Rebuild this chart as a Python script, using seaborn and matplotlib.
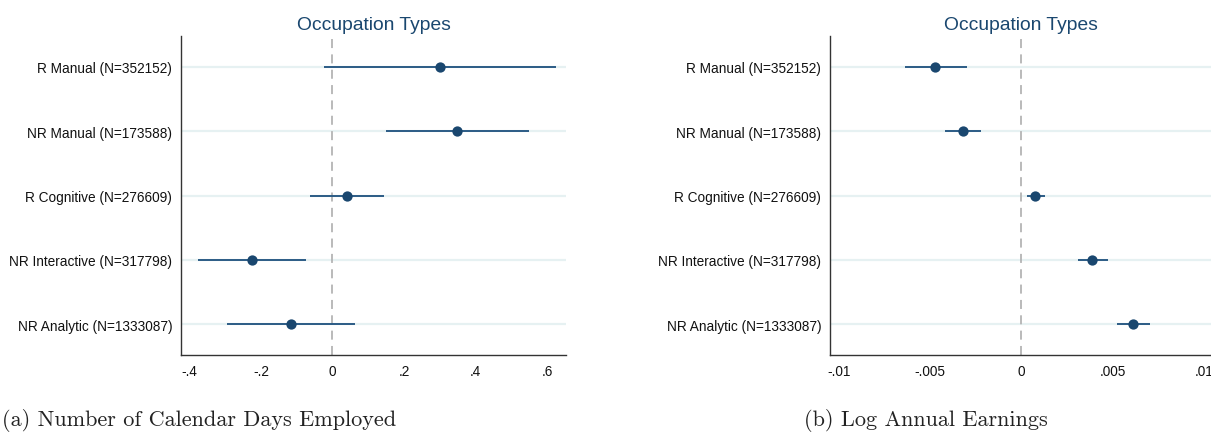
import matplotlib
matplotlib.use("Agg")
import matplotlib.pyplot as plt
import seaborn as sns
import pandas as pd

categories = ["R Manual (N=352152)", "NR Manual (N=173588)", "R Cognitive (N=276609)",
              "NR Interactive (N=317798)", "NR Analytic (N=1333087)"]

days_coef = [0.301, 0.348, 0.041, -0.225, -0.117]
days_lo = [-0.024, 0.149, -0.063, -0.375, -0.295]
days_hi = [0.625, 0.548, 0.145, -0.074, 0.062]

earn_coef = [-0.00472, -0.00321, 0.00077, 0.00389, 0.00613]
earn_lo = [-0.0064, -0.00417, 0.00028, 0.00309, 0.00521]
earn_hi = [-0.00298, -0.00223, 0.00128, 0.00472, 0.00704]

days_ticks = [-0.4, -0.2, 0, 0.2, 0.4, 0.6]
days_ticklabels = ["-.4", "-.2", "0", ".2", ".4", ".6"]
earn_ticks = [-0.01, -0.005, 0, 0.005, 0.01]
earn_ticklabels = ["-.01", "-.005", "0", ".005", ".01"]

title = "Occupation Types"
captions = ["(a) Number of Calendar Days Employed", "(b) Log Annual Earnings"]

sns.set_style("white")
plt.rcParams["font.family"] = ["Liberation Sans", "DejaVu Sans"]

navy = "#1a476f"
line_c = "#2b5b86"
grid_c = "#e6f1f2"

fig = plt.figure(figsize=(12.11, 4.39), dpi=100)
ax1 = fig.add_axes([181 / 1211, 1 - 356 / 439, (566 - 181) / 1211, (356 - 37) / 439])
ax2 = fig.add_axes([830 / 1211, 1 - 356 / 439, (1211 - 830) / 1211, (356 - 37) / 439])

panels = [
    (ax1, days_coef, days_lo, days_hi, days_ticks, days_ticklabels, (-0.423, 0.652)),
    (ax2, earn_coef, earn_lo, earn_hi, earn_ticks, earn_ticklabels, (-0.01048, 0.01038)),
]

for ax, coef, lo, hi, ticks, tlabels, xlim in panels:
    df = pd.DataFrame({"cat": categories, "coef": coef, "lo": lo, "hi": hi})
    ypos = list(range(len(categories)))
    for y in ypos:
        ax.axhline(y, color=grid_c, lw=1.6, zorder=0)
    ax.axvline(0, color="#b4b4b4", lw=1.3, ls=(0, (5, 3.5)), zorder=1)
    ax.hlines(ypos, df["lo"], df["hi"], color=line_c, lw=1.4, zorder=2)
    sns.scatterplot(data=df, x="coef", y="cat", ax=ax, color=navy, s=55,
                    edgecolor=navy, linewidth=0, zorder=3)
    ax.set_xlim(*xlim)
    ax.set_ylim(len(categories) - 0.52, -0.48)
    ax.set_yticks(ypos)
    ax.set_yticklabels(categories)
    ax.set_xticks(ticks)
    ax.set_xticklabels(tlabels)
    ax.set_xlabel("")
    ax.set_ylabel("")
    for s in ["top", "right"]:
        ax.spines[s].set_visible(False)
    for s in ["left", "bottom"]:
        ax.spines[s].set_color("#333333")
        ax.spines[s].set_linewidth(1.0)
    ax.tick_params(axis="both", direction="out", length=3.8, width=0.9,
                   color="#333333", labelsize=9.8, labelcolor="#111111", pad=2.5)
    ax.set_title(title, color=navy, fontsize=13.9, pad=5)

fig.text(199 / 1211, 1 - 421 / 439, captions[0], family="cmr10", fontsize=16.0,
         ha="center", va="center", color="#222222")
fig.text(926 / 1211, 1 - 421 / 439, captions[1], family="cmr10", fontsize=16.0,
         ha="center", va="center", color="#222222")

fig.savefig("out.png", dpi=100)
